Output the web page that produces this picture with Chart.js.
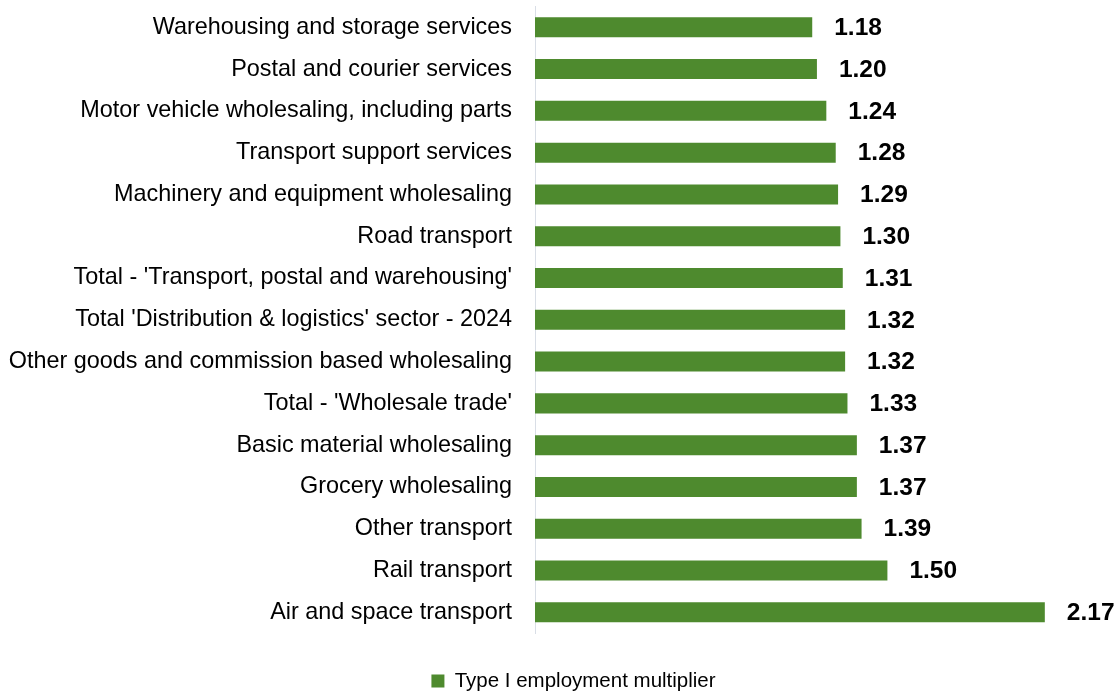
<!DOCTYPE html>
<html>
<head>
<meta charset="utf-8">
<script src="https://cdn.jsdelivr.net/npm/chart.js@4.4.0/dist/chart.umd.min.js"></script>
<style>
  html, body { margin: 0; padding: 0; background: #fff; }
  #wrap { width: 1120px; height: 691px; position: relative; }
</style>
</head>
<body>
<div id="wrap"><canvas id="c" width="1120" height="691"></canvas></div>
<script>
const categories = [
  "Warehousing and storage services",
  "Postal and courier services",
  "Motor vehicle wholesaling, including parts",
  "Transport support services",
  "Machinery and equipment wholesaling",
  "Road transport",
  "Total - 'Transport, postal and warehousing'",
  "Total 'Distribution & logistics' sector - 2024",
  "Other goods and commission based wholesaling",
  "Total - 'Wholesale trade'",
  "Basic material wholesaling",
  "Grocery wholesaling",
  "Other transport",
  "Rail transport",
  "Air and space transport"
];
const multiplierValues = [1.18, 1.20, 1.24, 1.28, 1.29, 1.30, 1.31, 1.32, 1.32, 1.33, 1.37, 1.37, 1.39, 1.50, 2.17];
const seriesName = "Type I employment multiplier";

const FONT = '"Liberation Sans", Arial, sans-serif';

const valueLabels = {
  id: 'valueLabels',
  afterDatasetsDraw(chart) {
    const ctx = chart.ctx;
    const meta = chart.getDatasetMeta(0);
    ctx.save();
    ctx.font = 'bold 24.5px ' + FONT;
    ctx.fillStyle = '#000';
    ctx.textAlign = 'left';
    ctx.textBaseline = 'middle';
    meta.data.forEach((bar, i) => {
      ctx.fillText(multiplierValues[i].toFixed(2), bar.x + 22, bar.y + 1);
    });
    ctx.restore();
  }
};

const legendShift = {
  id: 'legendShift',
  afterLayout(chart) {
    if (chart.legend) { chart.legend.left = 27; }
  }
};

new Chart(document.getElementById('c'), {
  type: 'bar',
  data: {
    labels: categories,
    datasets: [{
      label: seriesName,
      data: multiplierValues,
      backgroundColor: '#4e8a2e',
      borderWidth: 0,
      categoryPercentage: 1.0,
      barPercentage: 0.479
    }]
  },
  options: {
    indexAxis: 'y',
    responsive: false,
    animation: false,
    layout: { padding: { top: 6.4, left: 0, right: 0, bottom: -10.2 } },
    scales: {
      x: { display: false, min: 0, max: 2.49 },
      y: {
        grid: { display: false, drawTicks: true, tickLength: 23 },
        border: { display: true, color: '#d9dee6', width: 1 },
        ticks: {
          color: '#000',
          padding: 0,
          font: { family: FONT, size: 23.4 }
        },
        afterFit(scale) {
          scale.width = 535;
          scale.paddingTop = 0;
          scale.paddingBottom = 0;
        }
      }
    },
    plugins: {
      legend: {
        position: 'bottom',
        labels: {
          color: '#000',
          boxWidth: 13,
          boxHeight: 13,
          padding: 37.5,
          font: { family: FONT, size: 20.5 }
        }
      },
      tooltip: { enabled: false }
    }
  },
  plugins: [valueLabels, legendShift]
});
</script>
</body>
</html>
